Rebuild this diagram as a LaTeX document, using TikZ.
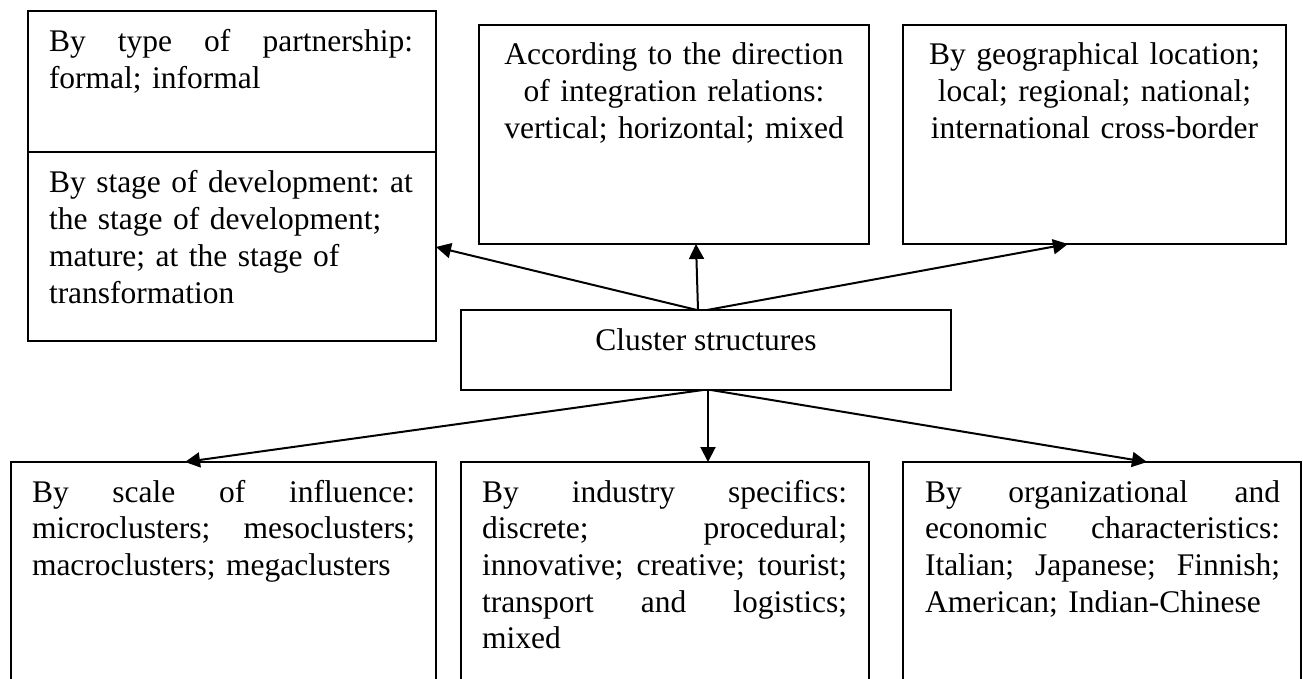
\documentclass[tikz,border=0pt]{standalone}
\usepackage{fontspec}
\setmainfont{Liberation Serif}
\usetikzlibrary{calc,arrows.meta}
% a line stretched to a given width (font glue restored for stretching)
\newcommand{\jline}[2]{\leavevmode\hbox to #1{\spaceskip=0pt\xspaceskip=0pt\relax #2}}
\begin{document}
\frenchspacing
\begin{tikzpicture}[x=1pt,y=-1pt,
  box/.style={draw,line width=1.3pt,inner sep=0pt,outer sep=0pt,anchor=north west},
  txt/.style={inner sep=0pt,outer sep=0pt,font=\fontsize{31.5}{36.7}\selectfont\frenchspacing},
  arr/.style={line width=2pt,-{Triangle[length=15pt,width=15pt]}}]
\useasboundingbox (0,0) rectangle (1303,678);
\clip (0,0) rectangle (1303,678);

% boxes
\node[box,minimum width=408,minimum height=141] (tlA) at (28,11) {};
\node[box,minimum width=408,minimum height=189] (tlB) at (28,152) {};
\node[box,minimum width=390,minimum height=219] (tm) at (479,25) {};
\node[box,minimum width=383,minimum height=219] (tr) at (903,25) {};
\node[box,minimum width=490,minimum height=80] (ctr) at (461,310) {};
\node[box,minimum width=425,minimum height=240] (bl) at (11,462) {};
\node[box,minimum width=408,minimum height=240] (bm) at (461,462) {};
\node[box,minimum width=398,minimum height=240] (br) at (903,462) {};

% texts
\node[txt,text width=366pt,align=left,anchor=north west] (tlAt) at ($(tlA.north west)+(21,15.3)$)
  {\strut\jline{364pt}{By type of partnership:}\\formal; informal};
\node[txt,text width=366pt,align=left,anchor=north west] (tlBt) at ($(tlB.north west)+(21,15.3)$)
  {\strut By stage of development: at\\the stage of development;\\mature; at the stage of\\transformation};
\node[txt,text width=380pt,align=center,anchor=north] (tmt) at ($(tm.north)+(0,14.3)$)
  {\strut According to the direction\\of integration relations:\\vertical; horizontal; mixed};
\node[txt,text width=380pt,align=center,anchor=north] (trt) at ($(tr.north)+(0,14.3)$)
  {\strut By geographical location;\\local; regional; national;\\international cross-border};
\node[txt,anchor=base] (ctrt) at ($(ctr.north)+(0,40)$) {Cluster structures};
\node[txt,text width=385pt,align=left,anchor=north west] (blt) at ($(bl.north west)+(21,14.3)$)
  {\strut\jline{383pt}{By scale of influence:}\\\jline{383pt}{microclusters; mesoclusters;}\\macroclusters; megaclusters};
\node[txt,text width=367pt,align=left,anchor=north west] (bmt) at ($(bm.north west)+(21,14.3)$)
  {\strut\jline{365pt}{By industry specifics:}\\\jline{365pt}{discrete; procedural;}\\\jline{365pt}{innovative; creative; tourist;}\\\jline{365pt}{transport and logistics;}\\mixed};
\node[txt,text width=357pt,align=left,anchor=north west] (brt) at ($(br.north west)+(22,14.3)$)
  {\strut\jline{355pt}{By organizational and}\\\jline{355pt}{economic characteristics:}\\\jline{355pt}{Italian; Japanese; Finnish;}\\American; Indian-Chinese};

% connectors
\draw[arr] ($(ctr.north west)+(236,0)$) -- ($(tlB.north east)+(0,95)$);
\draw[arr] ($(ctr.north west)+(237,0)$) -- ($(tm.south west)+(217,0)$);
\draw[arr] ($(ctr.north west)+(246,0)$) -- ($(tr.south west)+(165,0)$);
\draw[arr] ($(ctr.south west)+(242,0)$) -- ($(bl.north west)+(174,0)$);
\draw[arr] ($(ctr.south west)+(247,0)$) -- ($(bm.north west)+(247,0)$);
\draw[arr] ($(ctr.south west)+(250,0)$) -- ($(br.north west)+(244,0)$);
\end{tikzpicture}
\end{document}
